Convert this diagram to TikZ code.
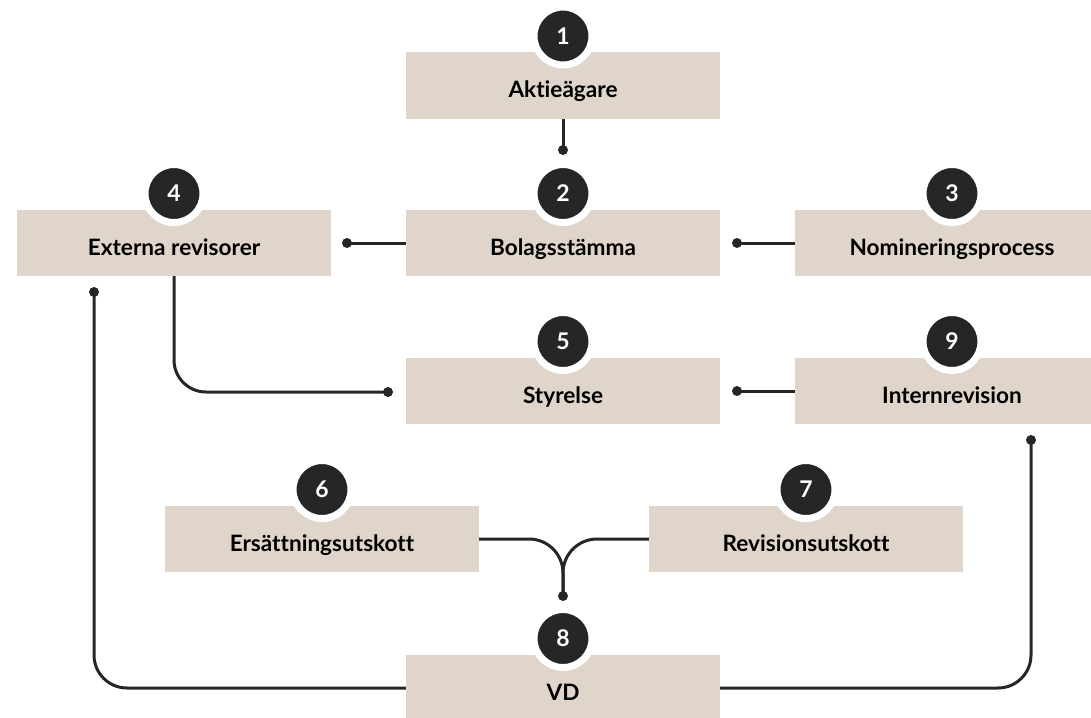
\documentclass[tikz,border=0pt]{standalone}
\usepackage{fontspec}
\setmainfont{Lato}[Ligatures=NoCommon]
\usetikzlibrary{calc}
\definecolor{boxfill}{HTML}{E0D5CA}
\definecolor{ink}{HTML}{262626}
\begin{document}
\begin{tikzpicture}[x=1pt,y=-1pt,
  box/.style={fill=boxfill, minimum width=314pt, minimum height=66pt, inner sep=0pt},
  lbl/.style={anchor=base, font=\fontsize{22.6}{26}\selectfont\bfseries, text=black, inner sep=0pt},
  num/.style={circle, fill=ink, draw=white, line width=7pt, minimum size=58pt, inner sep=0pt, text=white, font=\fontsize{23}{26}\selectfont\bfseries},
  conn/.style={draw=ink, line width=3pt},
  dotfill/.style={fill=ink}
]
\useasboundingbox (0,0) rectangle (1091,717);
\clip (0,0) rectangle (1091,717);

% boxes
\node[box] (b1) at (563,85.5) {};
\node[box] (b2) at (563,243) {};
\node[box] (b3) at (952,243) {};
\node[box] (b4) at (174,243) {};
\node[box] (b5) at (563,391) {};
\node[box] (b9) at (952,391) {};
\node[box] (b6) at (322,539) {};
\node[box] (b7) at (806,539) {};
\node[box] (b8) at (563,688) {};

% connector end points
\coordinate (d1) at (563,150);
\coordinate (d2) at (347,243);
\coordinate (d3) at (737,243);
\coordinate (d5) at (388,392);
\coordinate (d9) at (737,391);
\coordinate (d8) at (563,596);
\coordinate (dL) at (94,292);
\coordinate (dR) at (1031,440);

% connectors
\draw[conn] (b1.south) -- (d1);
\draw[conn] (b2.west) -- (d2);
\draw[conn] (b3.west) -- (d3);
\draw[conn, rounded corners=32pt] (b4.south) |- (d5);
\draw[conn] (b9.west) -- (d9);
\draw[conn, rounded corners=34pt] (b6.east) -| (d8);
\draw[conn, rounded corners=34pt] (b7.west) -| (d8);
\draw[conn, rounded corners=33pt] (b8.west) -| (dL);
\draw[conn, rounded corners=33pt] (b8.east) -| (dR);
\foreach \p in {d1,d2,d3,d5,d9,d8,dL,dR} \fill[dotfill] (\p) circle[radius=5pt];

% redraw boxes on top of connector ends
\foreach \b in {b1,b2,b3,b4,b5,b9,b6,b7,b8}
  \fill[boxfill] (\b.north west) rectangle (\b.south east);

% labels
\node[lbl] (t1) at ($(b1.center)+(0,12)$) {Aktieägare};
\node[lbl] (t2) at ($(b2.center)+(0,12)$) {Bolagsstämma};
\node[lbl] (t3) at ($(b3.center)+(0,12)$) {Nomineringsprocess};
\node[lbl] (t4) at ($(b4.center)+(0,12)$) {Externa revisorer};
\node[lbl] (t5) at ($(b5.center)+(0,12)$) {Styrelse};
\node[lbl] (t9) at ($(b9.center)+(0,12)$) {Internrevision};
\node[lbl] (t6) at ($(b6.center)+(0,12)$) {Ersättningsutskott};
\node[lbl] (t7) at ($(b7.center)+(0,12)$) {Revisionsutskott};
\node[lbl] (t8) at ($(b8.center)+(0,12)$) {VD};

% number badges
\node[num] (n1) at ($(b1.center)+(0,-49.5)$) {1};
\node[num] (n2) at ($(b2.center)+(0,-49.5)$) {2};
\node[num] (n3) at ($(b3.center)+(0,-49.5)$) {3};
\node[num] (n4) at ($(b4.center)+(0,-49.5)$) {4};
\node[num] (n5) at ($(b5.center)+(0,-49.5)$) {5};
\node[num] (n9) at ($(b9.center)+(0,-49.5)$) {9};
\node[num] (n6) at ($(b6.center)+(0,-49.5)$) {6};
\node[num] (n7) at ($(b7.center)+(0,-49.5)$) {7};
\node[num] (n8) at ($(b8.center)+(0,-49.5)$) {8};
\end{tikzpicture}
\end{document}
